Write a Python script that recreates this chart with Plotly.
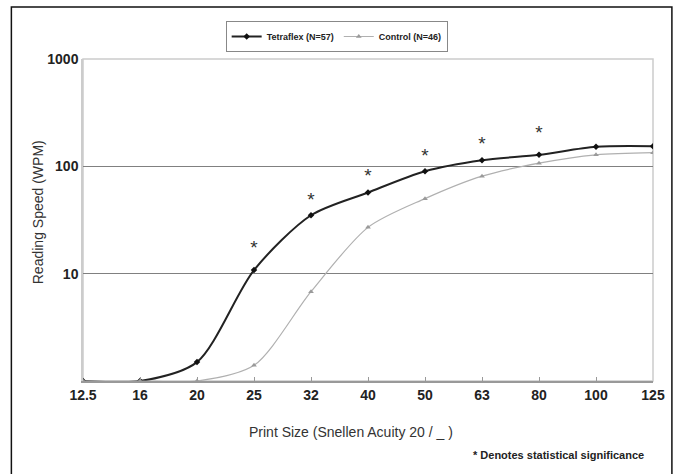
import plotly.graph_objects as go

# ---- data ----
print_sizes = ["12.5", "16", "20", "25", "32", "40", "50", "63", "80", "100", "125"]
tetraflex_wpm = [1, 1, 1.5, 10.8, 35, 57, 90, 114, 128, 152, 154]
control_wpm = [1, 1, 1, 1.4, 6.8, 27, 50, 81, 107, 128, 134]
significant_sizes = ["25", "32", "40", "50", "63", "80"]
star_levels = [17.0, 47.5, 79.6, 122, 158, 200]
y_ticks = [10, 100, 1000]
y_tick_labels = ["10", "100", "1000"]

# ---- geometry helpers (pixel -> paper) ----
W, H = 677, 474
L, R, T, B = 83, 656, 59, 381
def px(x):
    return (x - L) / (R - L)
def py(y):
    return (B - y) / (B - T)

xi = list(range(len(print_sizes)))
star_x = [print_sizes.index(s) for s in significant_sizes]

fig = go.Figure()
fig.add_trace(go.Scatter(
    x=xi, y=tetraflex_wpm, name="Tetraflex (N=57)",
    mode="lines+markers", line=dict(color="#222222", width=2, shape="spline", smoothing=0.8),
    marker=dict(symbol="diamond", size=5, color="#111111"),
))
fig.add_trace(go.Scatter(
    x=xi, y=control_wpm, name="Control (N=46)",
    mode="lines+markers", line=dict(color="#b0b0b0", width=1.2, shape="spline", smoothing=0.8),
    marker=dict(symbol="triangle-up", size=5, color="#9a9a9a"),
))
fig.add_trace(go.Scatter(
    x=star_x, y=star_levels, mode="text", text=["*"] * len(star_x),
    textposition="middle center", showlegend=False,
    textfont=dict(family="Liberation Sans, Arial, sans-serif", size=19, color="#333333"),
))

fig.update_layout(
    width=W, height=H,
    margin=dict(l=L, r=W - R, t=T, b=H - B),
    paper_bgcolor="white", plot_bgcolor="white",
    font=dict(family="Liberation Sans, Arial, sans-serif", color="#222222"),
    showlegend=True,
    legend=dict(
        orientation="h", x=px(338), xanchor="center", y=py(21), yanchor="top",
        bordercolor="#888888", borderwidth=1, bgcolor="white",
        font=dict(family="Liberation Sans Narrow, Arial Narrow, sans-serif",
                  size=9, color="#222222", weight="bold"),
        itemwidth=30, tracegroupgap=0,
    ),
    xaxis=dict(
        range=[0, len(print_sizes) - 1], tickmode="array", tickvals=xi, ticktext=print_sizes,
        showgrid=False, zeroline=False, showline=True, linecolor="#999999", linewidth=1.5,
        ticks="inside", ticklen=4, tickcolor="#999999",
        tickfont=dict(size=14, color="#222222", weight="bold"),
    ),
    yaxis=dict(
        type="log", range=[0, 3], tickmode="array", tickvals=y_ticks, ticktext=y_tick_labels,
        showgrid=True, gridcolor="#808080", gridwidth=1.2, zeroline=False,
        showline=True, linecolor="#cccccc", linewidth=1.5, ticks="",
        tickfont=dict(size=14, color="#222222", weight="bold"),
    ),
    shapes=[
        dict(type="rect", xref="paper", yref="paper", x0=0, x1=1, y0=0, y1=1,
             line=dict(color="#cccccc", width=1.5), layer="below"),
        dict(type="rect", xref="paper", yref="paper", x0=px(11), x1=px(675), y0=py(485), y1=py(7),
             line=dict(color="#111111", width=1.5)),
    ],
    annotations=[
        dict(text="Reading Speed (WPM)", xref="paper", yref="paper", x=px(38), y=py(212),
             xanchor="center", yanchor="middle",
             textangle=-90, showarrow=False, font=dict(size=14, color="#333333")),
        dict(text="Print Size (Snellen Acuity 20 / _ )", xref="paper", yref="paper", x=px(352), y=py(432),
             xanchor="center", yanchor="middle",
             showarrow=False, font=dict(size=14, color="#333333")),
        dict(text="* Denotes statistical significance", xref="paper", yref="paper", x=px(649), y=py(455),
             xanchor="right", yanchor="middle",
             showarrow=False, font=dict(size=11, color="#222222", weight="bold")),
    ],
)

fig.write_html("out.html", config={"displayModeBar": False},
               post_script="document.body.style.margin='0';document.body.style.overflow='hidden';")
